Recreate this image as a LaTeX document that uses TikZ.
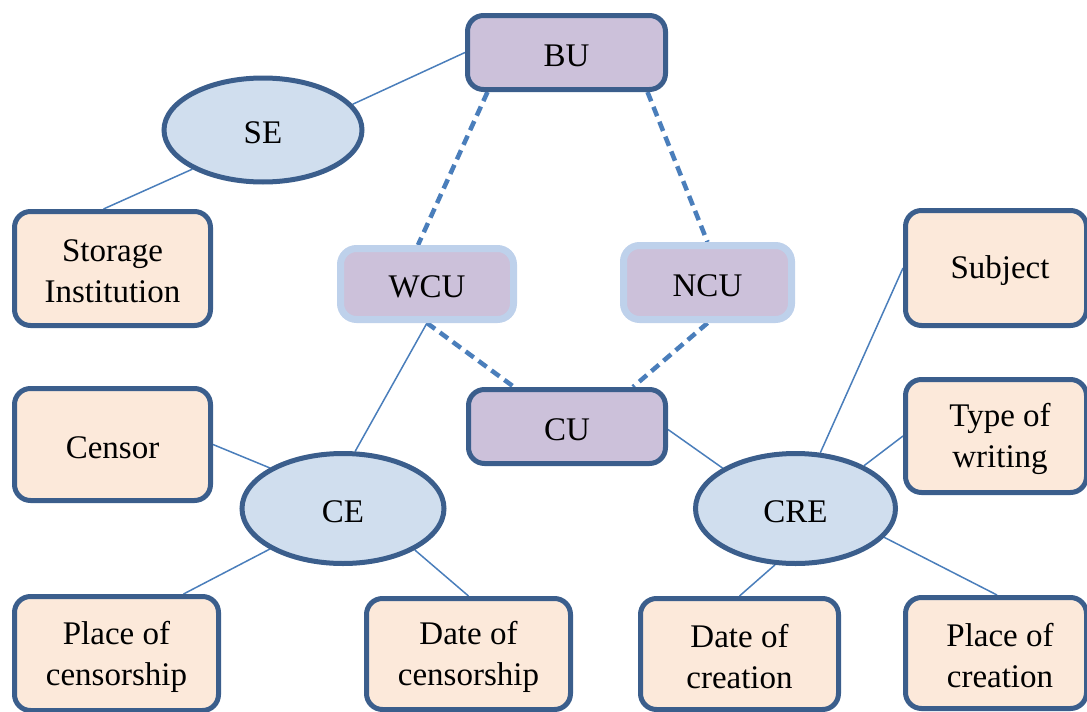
\documentclass[tikz,border=0pt]{standalone}
\usepackage{fontspec}
\setmainfont{Liberation Serif}
\usetikzlibrary{shapes.geometric,backgrounds}
\definecolor{bd}{RGB}{59,94,140}
\definecolor{lk}{RGB}{74,126,187}
\definecolor{peach}{RGB}{252,233,218}
\definecolor{lav}{RGB}{204,193,218}
\definecolor{ell}{RGB}{208,222,238}
\definecolor{lightbd}{RGB}{190,209,235}
\begin{document}
\begin{tikzpicture}[x=1pt,y=-1pt,
  txt/.style={align=center, inner sep=0pt, font=\fontsize{33}{41}\selectfont},
  t/.style={label={[txt,yshift=-3pt]center:{#1}}},
  tr/.style={label={[txt,yshift=-3pt,xshift=4pt]center:{#1}}},
  shp/.style={inner sep=0pt},
  box/.style={shp, draw=bd, line width=5pt, rounded corners=16pt, fill=peach},
  ubox/.style={shp, draw=bd, line width=5pt, rounded corners=16pt, fill=lav},
  gbox/.style={shp, draw=lightbd, line width=7pt, rounded corners=16pt, fill=lav},
  ent/.style={shp, ellipse, draw=bd, line width=5pt, fill=ell},
  link/.style={draw=lk, line width=1.5pt},
  dlink/.style={draw=lk, line width=4.5pt, dash pattern=on 10pt off 6pt}]
\useasboundingbox (0,0) rectangle (1087,712);
\clip (0,0) rectangle (1087,712);
\node[ubox, minimum width=198pt, minimum height=74pt, t={BU}] (BU) at (566.5,52.5) {};
\node[ent, minimum width=198pt, minimum height=104pt, t={SE}] (SE) at (263,130) {};
\node[box, minimum width=196pt, minimum height=114pt, t={Storage\\Institution}] (SI) at (112.5,268.5) {};
\node[gbox, minimum width=173pt, minimum height=71pt, t={WCU}] (WCU) at (427,284) {};
\node[gbox, minimum width=168pt, minimum height=74pt, t={NCU}] (NCU) at (707.5,282.5) {};
\node[ubox, minimum width=197pt, minimum height=74pt, t={CU}] (CU) at (567,426.5) {};
\node[box, minimum width=181pt, minimum height=115pt, tr={Subject}] (Subject) at (996,268) {};
\node[box, minimum width=181pt, minimum height=113pt, tr={Type of\\writing}] (Type) at (996,436) {};
\node[box, minimum width=196pt, minimum height=112pt, t={Censor}] (Censor) at (112.5,444.5) {};
\node[ent, minimum width=202pt, minimum height=110pt, t={CE}] (CE) at (343,508.5) {};
\node[ent, minimum width=200pt, minimum height=110pt, t={CRE}] (CRE) at (795.5,508.5) {};
\node[box, minimum width=204pt, minimum height=114pt, t={Place of\\censorship}] (PC) at (116.5,653.5) {};
\node[box, minimum width=204pt, minimum height=111pt, t={Date of\\censorship}] (DC) at (468.5,654) {};
\node[box, minimum width=198pt, minimum height=111pt, t={Date of\\creation}] (DoC) at (739.5,654) {};
\node[box, minimum width=181pt, minimum height=111pt, tr={Place of\\creation}] (PoC) at (996,653) {};
\begin{scope}[on background layer]
\draw[link] (BU.west) -- (SE.16);
\draw[link] (SE.209) -- ([xshift=-9pt]SI.north);
\draw[dlink] ([xshift=-79pt]BU.south) -- ([xshift=-9pt]WCU.north);
\draw[dlink] ([xshift=81pt]BU.south) -- (NCU.north);
\draw[dlink] (WCU.south) -- ([xshift=-53pt]CU.north);
\draw[dlink] (NCU.south) -- ([xshift=66pt]CU.north);
\draw[link] (WCU.south) -- (CE.78);
\draw[link] (Censor.east) -- (CE.151);
\draw[link] (CE.209) -- ([xshift=67pt]PC.north);
\draw[link] (CE.330) -- (DC.north);
\draw[link] ([yshift=-3pt]CU.east) -- (CRE.151);
\draw[link] (CRE.66) -- (Subject.west);
\draw[link] (CRE.32) -- (Type.west);
\draw[link] (CRE.250) -- (DoC.north);
\draw[link] (CRE.342) -- ([xshift=1pt]PoC.north);
\end{scope}
\end{tikzpicture}
\end{document}
